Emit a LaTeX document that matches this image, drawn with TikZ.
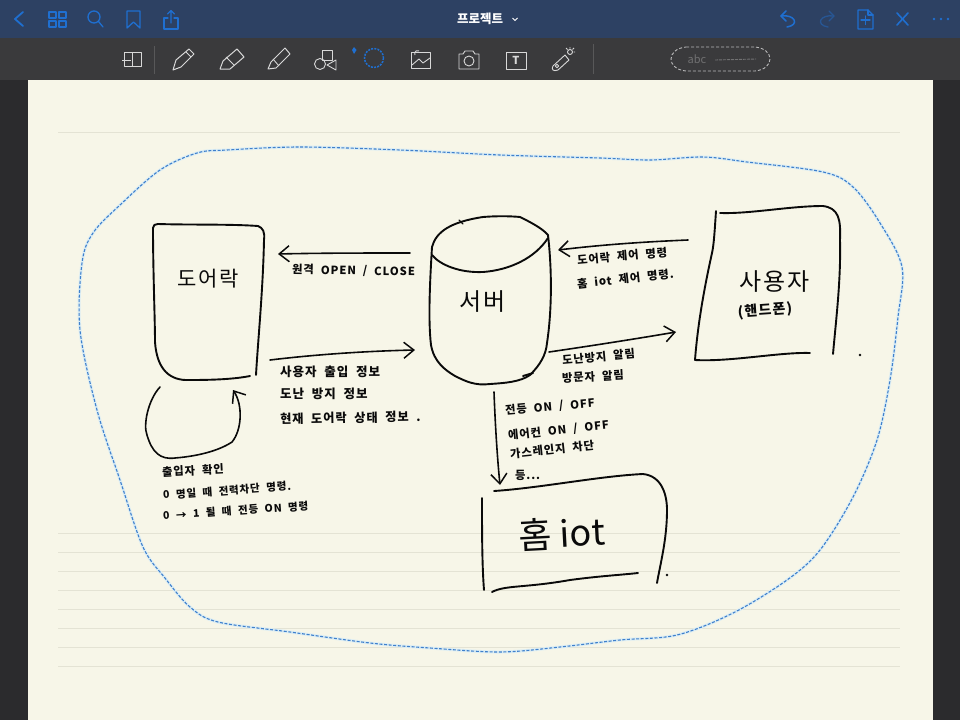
\documentclass[tikz,border=0pt]{standalone}
\usepackage{fontspec}
\setmainfont{Noto Sans CJK KR}
\newfontfamily\handfont[LetterSpace=8,WordSpace=2]{Noto Sans CJK KR}
\usetikzlibrary{arrows.meta}
\definecolor{topbar}{HTML}{2D4163}
\definecolor{toolbar}{HTML}{3A3A3C}
\definecolor{desk}{HTML}{2B2B2D}
\definecolor{paper}{HTML}{F7F6E8}
\definecolor{rule}{HTML}{E4E3D4}
\definecolor{lasso}{HTML}{3F80CC}
\definecolor{lassoglow}{HTML}{DDEEF4}
\definecolor{appblue}{HTML}{1F6FD0}
\definecolor{toolgrey}{HTML}{D8D8D8}
\definecolor{ink}{HTML}{0A0A0A}
\tikzset{
  sketch/.style={draw=ink,line width=1.9pt,line cap=round,line join=round},
  arrowstroke/.style={sketch,line width=1.6pt,-{Straight Barb[length=10pt,width=16pt,line width=1.5pt]}},
  hand/.style={text=ink,inner sep=0pt,anchor=west,font=\handfont\bfseries\fontsize{12.5}{12.5}\selectfont},
  handsmall/.style={hand,font=\handfont\bfseries\fontsize{11.3}{11.3}\selectfont},
  handtiny/.style={hand,font=\handfont\bfseries\fontsize{10.5}{10.5}\selectfont},
  big/.style={text=ink,inner sep=0pt,font=\handfont\fontsize{21}{21}\selectfont},
  ruleline/.style={draw=rule,line width=0.9pt},
  navicon/.style={draw=appblue,line width=1.3pt,line join=round,line cap=round},
  toolicon/.style={draw=toolgrey,line width=0.9pt,line join=round},
  lassopts/.style={insert path={plot[smooth cycle,tension=0.55] coordinates {
 (227,150) (300,147) (400,150) (500,155) (600,158) (650,160) (703,157) (747,162) (823,172) (853,187) (880,223) (902,267)
 (898,317) (890,380) (877,440) (853,497) (820,550) (787,580) (733,613) (677,635) (620,640) (560,647) (500,652) (430,648) (370,643) (290,632) (218,622)
 (190,607) (165,578) (143,547) (120,480) (97,410) (80,330) (82,263) (93,233) (120,205) (160,170) (197,153)}}},
}
\begin{document}
\begin{tikzpicture}[x=1pt,y=-1pt]
\useasboundingbox (0,0) rectangle (960,720);
% chrome
\fill[desk] (0,0) rectangle (960,720);
\fill[topbar] (0,0) rectangle (960,38);
\fill[toolbar] (0,38) rectangle (960,80);
\fill[paper] (28,80) rectangle (933,720);
% paper rules
\draw[ruleline] (58,132) -- (900,132);
\foreach \yy in {533,552,571,590,609,628,647,666} \draw[ruleline] (58,\yy) -- (900,\yy);
% top bar
\node[text=white,inner sep=0pt,font=\bfseries\fontsize{12.5}{12.5}\selectfont] (title) at (480,18.5) {프로젝트};
\draw[white,line width=0.9pt] (512.5,18) -- (515,20.5) -- (517.5,18);
\draw[navicon,line width=1.8pt] (23,12) -- (15,19) -- (23,26);
\foreach \xx/\yy in {49/12,59/12,49/21,59/21} \draw[navicon] (\xx,\yy) rectangle +(7,6);
\draw[navicon] (94,17) circle (6);
\draw[navicon] (98.5,21.5) -- (103,27);
\draw[navicon] (127,11) -- (140,11) -- (140,28) -- (133.5,22) -- (127,28) -- cycle;
\draw[navicon] (168,18) -- (164,18) -- (164,29) -- (178,29) -- (178,18) -- (174,18);
\draw[navicon] (171,23) -- (171,11) (167.5,14) -- (171,10.5) -- (174.5,14);
\draw[navicon,line width=1.5pt] (786,11) -- (781,16) -- (786,21);
\draw[navicon,line width=1.5pt] (781,16) .. controls (795,14) and (800,25) .. (787,27);
\draw[navicon,draw=appblue!45!topbar,line width=1.3pt] (829,11) -- (834,16) -- (829,21);
\draw[navicon,draw=appblue!45!topbar,line width=1.3pt] (834,16) .. controls (820,14) and (815,25) .. (828,27);
\draw[navicon] (858,10) -- (868,10) -- (873,15) -- (873,29) -- (858,29) -- cycle;
\draw[navicon] (868,10) -- (868,15) -- (873,15);
\draw[navicon] (861,20) -- (870,20) (865.5,16) -- (865.5,24.5);
\draw[navicon,line width=1.6pt] (897,13) -- (908,25) (908,13) -- (897,25);
\foreach \xx in {934,941,948} \fill[appblue] (\xx,19) circle (1.4);
% toolbar icons
\draw[toolicon] (124,52) rectangle (141,66);
\draw[toolicon] (132,52) -- (132,66) (122,60) -- (131,60);
\draw[draw=toolbar!85!white,line width=0.6pt] (154,46) -- (154,74);
\draw[toolicon,line width=1pt] (173,70) -- (176,60) -- (189,49) -- (194,54) -- (181,67) -- cycle;
\draw[toolicon] (186,52) -- (191,57);
\draw[toolicon,line width=1pt] (220,69) -- (230,69) -- (244,57) -- (237,49) -- (223,61) -- cycle;
\draw[toolicon] (226,57) -- (234,65);
\draw[toolicon,line width=1pt] (268,69) -- (276,68) -- (290,54) -- (285,48) -- (271,62) -- cycle;
\draw[toolicon] (273,59) -- (279,66);
\draw[toolicon] (322,50) rectangle (332,60);
\draw[toolicon] (320,64) circle (5.5);
\draw[toolicon] (336,60) -- (336,70) -- (327,65) -- cycle;
\draw[appblue,line width=1.5pt,dash pattern=on 2pt off 1.2pt] (374,58) circle (9.5);
\fill[appblue] (354,47) -- (356.5,50) -- (354,54) -- (352,50) -- cycle;
\draw[toolicon] (411,52) rectangle (430,68);
\draw[toolicon] (412,65) -- (419,59) -- (423,63) -- (430,58);
\draw[toolicon] (415,55) arc (150:300:3);
\draw[toolicon] (459,54) -- (463,54) -- (465,51) -- (473,51) -- (475,54) -- (479,54) -- (479,69) -- (459,69) -- cycle;
\draw[toolicon] (469,61) circle (5);
\draw[toolicon] (506,52) rectangle (526,69);
\node[text=toolgrey,inner sep=0pt,font=\fontsize{11}{11}\bfseries\selectfont] (texttool) at (516,60) {T};
\draw[toolicon] (553,66) -- (565,55) -- (569,60) -- (558,70) .. controls (553,72) and (551,69) .. (553,66);
\draw[toolicon] (557,66) circle (1.8);
\draw[toolicon] (570,52) circle (2.5);
\draw[toolicon] (570,47) -- (570,48.5) (575,52) -- (573.5,52) (566,48) -- (567.5,49.5) (574,48) -- (572.5,49.5);
\draw[draw=toolbar!85!white,line width=0.6pt] (593,44) -- (593,74);
\draw[draw=toolgrey!80!toolbar,line width=0.9pt,dash pattern=on 3pt off 2pt] (686,47) -- (755,47) .. controls (775,49) and (775,69) .. (755,71) -- (686,71) .. controls (666,69) and (666,49) .. (686,47) -- cycle;
\node[text=toolgrey!35!toolbar,inner sep=0pt,font=\fontsize{11}{11}\itshape\selectfont] (pen) at (697,59) {abc};
\draw[toolgrey!35!toolbar,line width=0.9pt,dash pattern=on 3pt off 1pt] (715,60) -- (756,59);
% lasso outline
\draw[lassoglow,line width=3pt,lassopts];
\draw[lasso,line width=1.1pt,dash pattern=on 3pt off 1.6pt,lassopts];
% door lock box
\draw[sketch] (153,228) .. controls (153,270) and (155,320) .. (155,342) .. controls (157,370) and (170,381) .. (190,380) .. controls (215,380) and (235,379) .. (250,376);
\draw[sketch] (153,228) .. controls (153,225) and (155,224) .. (158,224) .. controls (190,225) and (230,224) .. (258,226) .. controls (263,228) and (265,232) .. (264,240) .. controls (263,290) and (258,340) .. (256,375);
\node[big] (lock) at (208,279) {도어락};
% self loop
\coordinate (loopstart) at (160,387);
\coordinate (looptip) at (233,390);
\draw[arrowstroke] (loopstart) .. controls (148,400) and (143,425) .. (147,435) .. controls (152,452) and (160,460) .. (175,458) .. controls (200,456) and (220,450) .. (232,442) .. controls (242,430) and (243,405) .. (looptip);
% server cylinder
\draw[sketch] (432,247) .. controls (430,280) and (428,320) .. (431,345) .. controls (434,362) and (445,370) .. (455,376) .. controls (465,381) and (475,386) .. (490,384) .. controls (505,383) and (520,382) .. (530,375);
\draw[sketch] (530,375) .. controls (540,365) and (546,355) .. (547,343) .. controls (552,310) and (552,270) .. (548,235);
\draw[sketch] (523,376) -- (533,373);
\draw[sketch] (432,247) .. controls (436,232) and (450,222) .. (483,217) .. controls (495,216) and (510,216) .. (520,217) .. controls (530,222) and (542,228) .. (548,235);
\draw[sketch] (432,255) .. controls (440,265) and (460,273) .. (483,272) .. controls (510,270) and (535,258) .. (548,238);
\draw[sketch,line width=1.2pt] (459,220) -- (463,224);
\node[big,font=\handfont\fontsize{24}{24}\selectfont] (server) at (483,302) {서버};
% user box
\draw[sketch] (716,211) .. controls (715,225) and (714,245) .. (712,253) .. controls (706,280) and (698,320) .. (695,360) .. controls (730,362) and (780,352) .. (810,353);
\draw[sketch] (720,213) .. controls (750,214) and (790,206) .. (823,206) .. controls (838,208) and (841,218) .. (840,240) .. controls (841,280) and (836,320) .. (833,354);
\fill[ink] (860,355) circle (1.4);
\node[big,font=\handfont\fontsize{24}{24}\selectfont] (user) at (775,282) {사용자};
\node[text=ink,inner sep=0pt,font=\handfont\bfseries\fontsize{14}{14}\selectfont,rotate=4] (phone) at (765,311) {(핸드폰)};
% home iot box
\draw[sketch] (494,491) .. controls (540,488) and (600,476) .. (643,474) .. controls (662,476) and (667,495) .. (667,510) .. controls (667,540) and (660,565) .. (657,583);
\draw[sketch] (482,498) .. controls (482,530) and (482,565) .. (484,590);
\draw[sketch] (492,592) .. controls (505,585) and (525,588) .. (570,580) .. controls (600,576) and (620,575) .. (638,573);
\fill[ink] (667,575) circle (1.4);
\node[text=ink,inner sep=0pt,font=\fontsize{36}{36}\selectfont,rotate=3] (iot) at (562,533) {홈 iot};
% connector anchors
\coordinate (serverW) at (410,253);
\coordinate (lockE) at (278,254);
\coordinate (lockS) at (270,360);
\coordinate (serverWlow) at (415,350);
\coordinate (userW) at (688,240);
\coordinate (serverE) at (558,250);
\coordinate (serverElow) at (549,352);
\coordinate (userWlow) at (676,332);
\coordinate (serverS) at (494,392);
\coordinate (iotN) at (500,485);
% connectors
\draw[arrowstroke] (serverW) .. controls (370,253) and (320,253) .. (lockE);
\draw[arrowstroke] (lockS) .. controls (320,354) and (370,351) .. (serverWlow);
\draw[arrowstroke] (userW) .. controls (640,242) and (600,245) .. (serverE);
\draw[arrowstroke] (serverElow) .. controls (590,346) and (635,339) .. (userWlow);
\draw[arrowstroke] (serverS) .. controls (495,420) and (497,455) .. (iotN);
% labels
\node[handsmall,rotate=-1] (l1) at (292,270) {원격 OPEN / CLOSE};
\node[hand] (l2) at (280,372) {사용자 출입 정보};
\node[hand] (l3) at (280,394) {도난 방지 정보};
\node[hand,font=\handfont\bfseries\fontsize{12.2}{12.2}\selectfont,rotate=1] (l4) at (280,419) {현재 도어락 상태 정보 .};
\node[handsmall,rotate=5] (l5) at (577,260) {도어락 제어 명령};
\node[handsmall,rotate=6] (l6) at (577,284) {홈 iot 제어 명령.};
\node[handsmall,rotate=5] (l7) at (562,360) {도난방지  알림};
\node[handsmall,rotate=3] (l8) at (562,378) {방문자  알림};
\node[handsmall,rotate=5] (l9) at (505,411) {전등  ON / OFF};
\node[handsmall,rotate=6] (l10) at (508,436) {에어컨  ON / OFF};
\node[handsmall,rotate=6] (l11) at (510,454) {가스레인지 차단};
\node[handsmall] (l12) at (515,475) {등...};
\node[handsmall,rotate=3] (l13) at (162,472) {출입자 확인};
\node[handtiny,rotate=4] (l14) at (163,495) {0 명일 때 전력차단 명령.};
\node[handtiny,rotate=4] (l15) at (163,516) {0 → 1 될 때 전등 ON 명령};
\end{tikzpicture}
\end{document}
